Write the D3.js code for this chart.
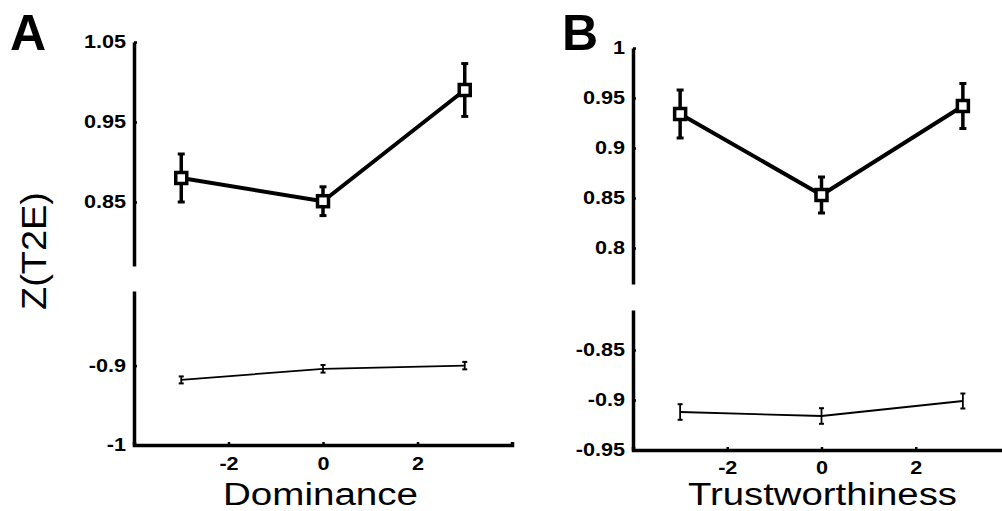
<!DOCTYPE html>
<html><head><meta charset="utf-8">
<script src="https://cdn.jsdelivr.net/npm/d3@7"></script>
<style>
body{margin:0;background:#fff}
text{font-family:"Liberation Sans",Arial,sans-serif;fill:#000}
</style>
</head><body><svg id="c" width="1002" height="511"></svg>
<script>
// ---- data ----
const xValues = [-3, 0, 3];
const xTicks = [-2, 0, 2];
const xTickLabels = ["-2", "0", "2"];

const domTopMean = [0.880, 0.851, 0.990];
const domTopErr  = [0.030, 0.018, 0.033];
const domBotMean = [-0.918, -0.904, -0.900];
const domBotErr  = [0.0044, 0.0048, 0.0047];

const trTopMean = [0.934, 0.853, 0.942];
const trTopErr  = [0.024, 0.018, 0.0225];
const trBotMean = [-0.912, -0.916, -0.901];
const trBotErr  = [0.0078, 0.0078, 0.0075];

const domTopTicks = [0.85, 0.95, 1.05];
const domTopTickLabels = ["0.85", "0.95", "1.05"];
const domBotTicks = [-1, -0.9];
const domBotTickLabels = ["-1", "-0.9"];
const trTopTicks = [0.8, 0.85, 0.9, 0.95, 1];
const trTopTickLabels = ["0.8", "0.85", "0.9", "0.95", "1"];
const trBotTicks = [-0.95, -0.9, -0.85];
const trBotTickLabels = ["-0.95", "-0.9", "-0.85"];

const panelLetters = ["A", "B"];
const xTitles = ["Dominance", "Trustworthiness"];
const yTitle = "Z(T2E)";

// ---- layout ----
const svg = d3.select("#c");
svg.append("rect").attr("width",1002).attr("height",511).attr("fill","#fff");

const panels = [
  { letter: panelLetters[0], letterX: 10, title: xTitles[0], titleX: 320.5, titleLen: 195, xpad: 12,
    xr: [134, 512],
    top: { mean: domTopMean, err: domTopErr, ticks: domTopTicks, labels: domTopTickLabels, dom: [0.77, 1.05], rng: [266, 42] },
    bot: { mean: domBotMean, err: domBotErr, ticks: domBotTicks, labels: domBotTickLabels, dom: [-1, -0.806], rng: [445, 291] } },
  { letter: panelLetters[1], letterX: 562, title: xTitles[1], titleX: 822.5, titleLen: 269, xpad: 11,
    xr: [633, 1010],
    top: { mean: trTopMean, err: trTopErr, ticks: trTopTicks, labels: trTopTickLabels, dom: [0.764, 1], rng: [284, 48] },
    bot: { mean: trBotMean, err: trBotErr, ticks: trBotTicks, labels: trBotTickLabels, dom: [-0.95, -0.81], rng: [450, 310] } }
];

function drawSub(g, x, sub, heavy) {
  const y = d3.scaleLinear().domain(sub.dom).range(sub.rng);
  const ax = g.append("g").attr("transform", `translate(${x(-4)},0)`)
    .call(d3.axisLeft(y).tickValues(sub.ticks).tickFormat((d,i)=>sub.labels[i])
      .tickSizeInner(-3).tickSizeOuter(0).tickPadding(8));
  ax.select(".domain").attr("stroke","#000").attr("stroke-width",3.5);
  ax.selectAll(".tick line").attr("stroke","#000").attr("stroke-width",2.5);
  ax.selectAll(".tick text").attr("class","stretch").attr("font-size",18).attr("font-weight","bold").attr("fill","#000");
  ax.attr("font-family",null);

  const pts = xValues.map((v,i)=>({x:v, m:sub.mean[i], e:sub.err[i]}));
  const lw = heavy ? 4 : 1.8;
  g.append("path").datum(pts)
    .attr("d", d3.line().x(d=>x(d.x)).y(d=>y(d.m)))
    .attr("fill","none").attr("stroke","#000").attr("stroke-width",lw).attr("stroke-linejoin","round");
  const cap = heavy ? 3.5 : 2.5;
  const eb = g.append("g").selectAll("g").data(pts).join("g");
  eb.append("line").attr("x1",d=>x(d.x)).attr("x2",d=>x(d.x))
    .attr("y1",d=>y(d.m-d.e)).attr("y2",d=>y(d.m+d.e))
    .attr("stroke","#000").attr("stroke-width",heavy?3.5:1.8);
  [1,-1].forEach(s=>{
    eb.append("line").attr("x1",d=>x(d.x)-cap).attr("x2",d=>x(d.x)+cap)
      .attr("y1",d=>y(d.m+s*d.e)).attr("y2",d=>y(d.m+s*d.e))
      .attr("stroke","#000").attr("stroke-width",heavy?3:2);
  });
  if (heavy) {
    eb.append("rect").attr("x",d=>x(d.x)-5.5).attr("y",d=>y(d.m)-5.5)
      .attr("width",11).attr("height",11)
      .attr("fill","#fff").attr("stroke","#000").attr("stroke-width",3.5);
  }
  return y;
}

panels.forEach(p=>{
  const g = svg.append("g");
  const x = d3.scaleLinear().domain([-4,4]).range(p.xr);
  drawSub(g, x, p.top, true);
  drawSub(g, x, p.bot, false);
  const xa = g.append("g").attr("transform",`translate(0,${p.bot.rng[0]})`)
    .call(d3.axisBottom(x).tickValues(xTicks).tickFormat((d,i)=>xTickLabels[i])
      .tickSizeInner(-3).tickSizeOuter(-3).tickPadding(p.xpad));
  xa.select(".domain").attr("stroke","#000").attr("stroke-width",3.5);
  xa.selectAll(".tick line").attr("stroke","#000").attr("stroke-width",2.5);
  xa.selectAll(".tick text").attr("class","stretch").attr("font-size",18).attr("font-weight","bold").attr("fill","#000");
  xa.attr("font-family",null);

  g.append("text").attr("x",p.letterX).attr("y",50).attr("font-size",50).attr("font-weight","bold").text(p.letter);
  g.append("text").attr("x",p.titleX).attr("y",505).attr("text-anchor","middle")
    .attr("font-size",31).attr("textLength",p.titleLen).attr("lengthAdjust","spacingAndGlyphs").text(p.title);
});

svg.append("text").attr("transform","translate(46,251) rotate(-90)").attr("text-anchor","middle")
  .attr("font-size",35).attr("textLength",118).attr("lengthAdjust","spacingAndGlyphs").text(yTitle);

svg.selectAll("text.stretch").each(function(){
  const l = this.getComputedTextLength();
  this.setAttribute("textLength", l*1.2);
  this.setAttribute("lengthAdjust","spacingAndGlyphs");
});
</script>
</body></html>
